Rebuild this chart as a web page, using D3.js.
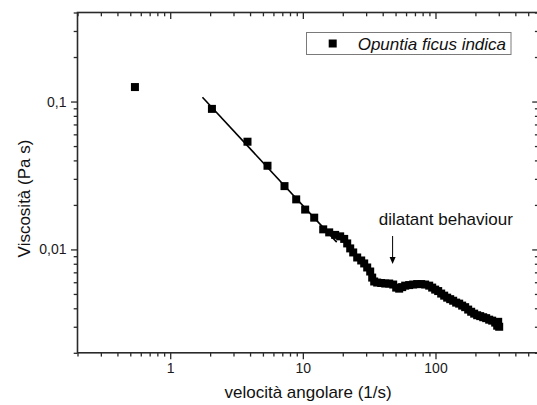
<!DOCTYPE html>
<html>
<head>
<meta charset="utf-8">
<script src="https://cdn.jsdelivr.net/npm/d3@7"></script>
<style>
  html, body { margin: 0; padding: 0; background: #fff; }
  svg { display: block; font-family: "Liberation Sans", Arial, sans-serif; }
</style>
</head>
<body>
<svg id="chart" width="537" height="405"></svg>
<script>
// Angular velocity (1/s) of each measurement
const omega = [
  0.542, 2.063, 3.825, 5.413, 7.272, 8.910, 10.41, 12.18, 14.24,
  15.80, 17.53, 19.12, 20.50, 21.60, 22.75, 23.97, 25.69, 27.54, 29.01,
  30.56, 32.19, 33.33, 34.51, 36.35, 38.96, 41.77, 44.77, 47.99, 50.55,
  53.24, 56.10, 59.09, 63.34, 67.90, 72.78, 78.01, 83.62, 89.65, 94.43,
  99.48, 104.8, 110.4, 116.3, 122.5, 129.1, 135.9, 143.2, 150.9, 158.9,
  167.4, 176.4, 185.8, 195.8, 206.2, 217.3, 228.9, 241.1, 254.0, 267.6,
  281.9, 291.9, 297.0, 302.2
];
// Viscosity (Pa s) of each measurement
const viscosity = [
  0.1253, 0.0892, 0.0535, 0.0368, 0.0268, 0.0218, 0.0186, 0.0164, 0.01367,
  0.01304, 0.01254, 0.01226, 0.01178, 0.01098, 0.01016, 0.00954, 0.00882, 0.00842, 0.00804,
  0.00755, 0.00709, 0.00645, 0.00607, 0.00597, 0.00593, 0.00588, 0.00588, 0.00579, 0.00552,
  0.00543, 0.00556, 0.00569, 0.00574, 0.00579, 0.00583, 0.00583, 0.00579, 0.00569, 0.00552,
  0.00535, 0.00523, 0.00503, 0.00487, 0.00472, 0.00461, 0.00450, 0.00437, 0.00430, 0.00417,
  0.00407, 0.00392, 0.00379, 0.00368, 0.00359, 0.00354, 0.00348, 0.00343, 0.00335, 0.00330,
  0.00320, 0.00305, 0.00324, 0.00300
];
// Power-law fit through the shear-thinning region
const fitOmega = [1.75, 18];
const fitViscosity = [0.107, 0.0112];

const xMajor = [1, 10, 100];
const xMajorLabels = ["1", "10", "100"];
const yMajor = [0.01, 0.1];
const yMajorLabels = ["0,01", "0,1"];

const seriesName = "Opuntia ficus indica";
const annotation = "dilatant behaviour";
const annotationOmega = 47.5;
const xTitle = "velocità angolare (1/s)";
const yTitle = "Viscosità (Pa s)";

const svg = d3.select("#chart");
const x = d3.scaleLog().domain([0.2, 600]).range([77.5, 538.7]);
const y = d3.scaleLog().domain([0.002, 0.4]).range([352.8, 12.5]);

const axisColor = "#2a2a2a";
const majorLen = 6.5, minorLen = 3.8;

function styleAxis(g, majors, inward, vertical) {
  g.select(".domain").remove();
  g.selectAll(".tick line")
    .attr("stroke", axisColor)
    .attr("stroke-width", 1.3)
    .each(function (d) {
      const isMajor = majors.some(m => Math.abs(m - d) / m < 1e-9);
      const len = (isMajor ? majorLen : minorLen) * (inward ? -1 : 1);
      const sel = d3.select(this);
      if (vertical) sel.attr("y2", null).attr("x2", len * (vertical === "left" ? -1 : 1));
      else sel.attr("x2", null).attr("y2", len * (vertical === false ? 1 : 1));
    });
  g.selectAll(".tick text")
    .attr("fill", "#1a1a1a")
    .style("font-size", "14px")
    .style("font-family", "'Liberation Sans', Arial, sans-serif");
}

const xTicks = x.ticks();
const yTicks = y.ticks();
const xFmt = d => { const i = xMajor.findIndex(m => Math.abs(m - d) / m < 1e-9); return i >= 0 ? xMajorLabels[i] : ""; };
const yFmt = d => { const i = yMajor.findIndex(m => Math.abs(m - d) / m < 1e-9); return i >= 0 ? yMajorLabels[i] : ""; };

// bottom axis: ticks point outward
const gBottom = svg.append("g").attr("transform", `translate(0,${y.range()[0]})`)
  .call(d3.axisBottom(x).tickValues(xTicks).tickFormat(xFmt).tickSizeOuter(0).tickPadding(4));
gBottom.selectAll(".tick line").attr("y2", d => (xMajor.some(m => Math.abs(m - d) / m < 1e-9) ? majorLen : minorLen));
gBottom.select(".domain").remove();
gBottom.selectAll(".tick line").attr("stroke", axisColor).attr("stroke-width", 1.3);
gBottom.selectAll(".tick text").attr("fill", "#1a1a1a").style("font-size", "14px").attr("y", 10);

// top axis: ticks point inward
const gTop = svg.append("g").attr("transform", `translate(0,${y.range()[1]})`)
  .call(d3.axisTop(x).tickValues(xTicks).tickFormat("").tickSizeOuter(0));
gTop.selectAll(".tick line").attr("y2", d => (xMajor.some(m => Math.abs(m - d) / m < 1e-9) ? majorLen : minorLen));
gTop.select(".domain").remove();
gTop.selectAll(".tick line").attr("stroke", axisColor).attr("stroke-width", 1.3);

// left axis: ticks point outward
const gLeft = svg.append("g").attr("transform", `translate(${x.range()[0]},0)`)
  .call(d3.axisLeft(y).tickValues(yTicks).tickFormat(yFmt).tickSizeOuter(0).tickPadding(4));
gLeft.selectAll(".tick line").attr("x2", d => -(yMajor.some(m => Math.abs(m - d) / m < 1e-9) ? majorLen : minorLen));
gLeft.select(".domain").remove();
gLeft.selectAll(".tick line").attr("stroke", axisColor).attr("stroke-width", 1.3);
gLeft.selectAll(".tick text").attr("fill", "#1a1a1a").style("font-size", "14px").attr("x", -11);

// right axis: ticks point inward
const gRight = svg.append("g").attr("transform", `translate(${x.range()[1]},0)`)
  .call(d3.axisRight(y).tickValues(yTicks).tickFormat("").tickSizeOuter(0));
gRight.selectAll(".tick line").attr("x2", d => -(yMajor.some(m => Math.abs(m - d) / m < 1e-9) ? majorLen : minorLen));
gRight.select(".domain").remove();
gRight.selectAll(".tick line").attr("stroke", axisColor).attr("stroke-width", 1.3);

// plot frame
svg.append("rect")
  .attr("x", x.range()[0]).attr("y", y.range()[1])
  .attr("width", x.range()[1] - x.range()[0])
  .attr("height", y.range()[0] - y.range()[1])
  .attr("fill", "none").attr("stroke", axisColor).attr("stroke-width", 1.6);

// fit line
const fitPts = fitOmega.map((w, i) => [w, fitViscosity[i]]);
svg.append("path")
  .attr("d", d3.line().x(d => x(d[0])).y(d => y(d[1]))(fitPts))
  .attr("fill", "none").attr("stroke", "#000").attr("stroke-width", 1.6);

// measurements
const ms = 8;
svg.append("g").selectAll("rect")
  .data(omega.map((w, i) => [w, viscosity[i]]))
  .join("rect")
  .attr("x", d => x(d[0]) - ms / 2).attr("y", d => y(d[1]) - ms / 2)
  .attr("width", ms).attr("height", ms).attr("fill", "#000");

// legend
const lg = svg.append("g");
lg.append("rect").attr("x", 306.5).attr("y", 32.5).attr("width", 204.5).attr("height", 22)
  .attr("fill", "#fff").attr("stroke", "#7a7a7a").attr("stroke-width", 1);
lg.append("rect").attr("x", 332.7 - ms / 2).attr("y", 43.5 - ms / 2).attr("width", ms).attr("height", ms).attr("fill", "#000");
lg.append("text").attr("x", 357.7).attr("y", 49.6)
  .style("font-size", "17px").style("font-style", "italic").attr("fill", "#111").text(seriesName);

// annotation with arrow
const ax = x(annotationOmega);
svg.append("text").attr("x", 378.7).attr("y", 225)
  .style("font-size", "17px").attr("fill", "#111").text(annotation);
svg.append("line").attr("x1", ax).attr("x2", ax).attr("y1", 236).attr("y2", 259)
  .attr("stroke", "#000").attr("stroke-width", 1);
svg.append("path")
  .attr("d", `M${ax - 3},${257} L${ax + 3},${257} L${ax},${264} Z`)
  .attr("fill", "#000");

// axis titles
svg.append("text").attr("x", (x.range()[0] + x.range()[1]) / 2).attr("y", 398)
  .attr("text-anchor", "middle").style("font-size", "17px").attr("fill", "#111").text(xTitle);
svg.append("text").attr("transform", "translate(29.5,198.5) rotate(-90)")
  .attr("text-anchor", "middle").style("font-size", "17px").attr("fill", "#111").text(yTitle);
</script>
</body>
</html>
